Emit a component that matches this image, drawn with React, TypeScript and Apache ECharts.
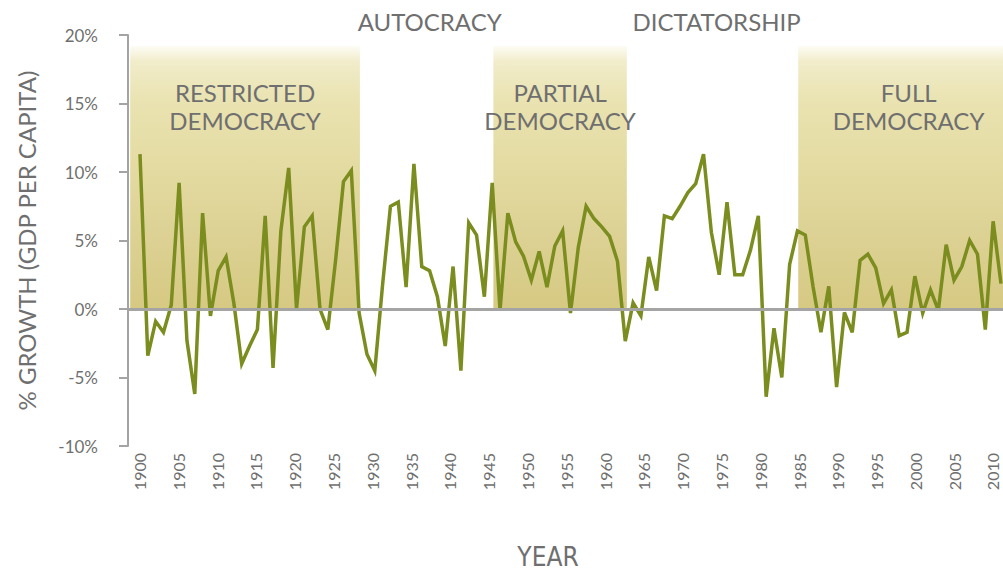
import React, { useEffect, useRef } from "react";
import * as echarts from "echarts";

// ---- Data ----
const firstYear = 1900;
const growth: number[] = [
  11.3, -3.4, -0.9, -1.7, 0.3, 9.2, -2.3, -6.2, 7.0, -0.5, // 1900-1909
  2.8, 3.8, 0.4, -4.0, -2.7, -1.5, 6.8, -4.3, 5.7, 10.3, // 1910-1919
  0.0, 6.0, 6.8, 0.0, -1.5, 3.6, 9.3, 10.1, -0.3, -3.3, // 1920-1929
  -4.5, 1.8, 7.5, 7.8, 1.6, 10.6, 3.1, 2.8, 0.9, -2.7, // 1930-1939
  3.1, -4.5, 6.3, 5.4, 0.9, 9.2, -0.1, 7.0, 4.9, 3.85, // 1940-1949
  2.1, 4.2, 1.6, 4.6, 5.7, -0.3, 4.5, 7.5, 6.6, 6.0, // 1950-1959
  5.3, 3.5, -2.35, 0.45, -0.5, 3.8, 1.35, 6.8, 6.6, 7.5, // 1960-1969
  8.5, 9.15, 11.3, 5.6, 2.5, 7.8, 2.5, 2.5, 4.3, 6.8, // 1970-1979
  -6.4, -1.4, -5.0, 3.25, 5.7, 5.4, 1.6, -1.7, 1.65, -5.7, // 1980-1989
  -0.25, -1.7, 3.55, 4.0, 3.0, 0.4, 1.4, -1.95, -1.7, 2.4, // 1990-1999
  -0.3, 1.4, -0.1, 4.7, 2.1, 3.1, 5.0, 4.0, -1.5, 6.4, // 2000-2009
  1.85, // 2010
];
const years: number[] = growth.map((_, i) => firstYear + i);

const tickYears: number[] = [
  1900, 1905, 1910, 1915, 1920, 1925, 1930, 1935, 1940, 1945, 1950, 1955,
  1960, 1965, 1970, 1975, 1980, 1985, 1990, 1995, 2000, 2005, 2010,
];

const eraNames: string[] = [
  "RESTRICTED\nDEMOCRACY",
  "AUTOCRACY",
  "PARTIAL\nDEMOCRACY",
  "DICTATORSHIP",
  "FULL\nDEMOCRACY",
];
const eraStart: number[] = [1898.75, 1928.1, 1945.15, 1962.2, 1984.1];
const eraEnd: number[] = [1928.1, 1945.15, 1962.2, 1984.1, 2012];
const eraShaded: boolean[] = [true, false, true, false, true];
const bandTop = 19.2;

// ---- Styles / layout ----
const TEXT = "#6f6f6f";
const AXIS = "#a4a4a4";
const LINE = "#7b8d1e";
const FONT = 'Lato, "Open Sans", sans-serif';
const NARROW = '"Liberation Sans Narrow", "DejaVu Sans Condensed", Lato, sans-serif';
const X_MIN = 1898.47;
const X_MAX = 2010.26;
const LABEL_X_MIN = 1898.52;
const LABEL_X_MAX = 2011.29;
const eraLabelOffset: number[][] = [[0, 0], [3, 0], [0, 0], [4, 0], [8, 0]];

export default function App() {
  const ref = useRef<HTMLDivElement>(null);

  useEffect(() => {
    if (!ref.current) return;
    const chart = echarts.init(ref.current, undefined, { renderer: "svg" });

    const bandGradient = {
      type: "linear",
      x: 0,
      y: 0,
      x2: 0,
      y2: 1,
      colorStops: [
        { offset: 0, color: "#fdfcf5" },
        { offset: 0.06, color: "#f1ecca" },
        { offset: 0.2, color: "#eae3b2" },
        { offset: 0.4, color: "#e5dda5" },
        { offset: 0.7, color: "#ddd295" },
        { offset: 1, color: "#d6c983" },
      ],
    };

    const eraAreas = eraNames.map((name, i) => [
      {
        name,
        xAxis: eraStart[i],
        yAxis: 0,
        itemStyle: { color: eraShaded[i] ? bandGradient : "rgba(0,0,0,0)" },
        label: eraShaded[i]
          ? { position: "insideTop", distance: 33, offset: eraLabelOffset[i] }
          : { position: "top", distance: 10, offset: eraLabelOffset[i] },
      },
      { xAxis: eraEnd[i], yAxis: bandTop },
    ]);

    const option = {
      animation: false,
      textStyle: { fontFamily: FONT },
      grid: {
        left: 128,
        right: 0,
        top: 35,
        bottom: 125,
        containLabel: false,
        outerBoundsMode: "none",
      },
      xAxis: [
        {
          type: "value",
          min: X_MIN,
          max: X_MAX,
          name: "YEAR",
          nameLocation: "middle",
          nameGap: 98,
          nameTextStyle: {
            fontFamily: NARROW,
            fontSize: 26,
            color: TEXT,
            padding: [0, 35, 0, 0],
          },
          axisLine: { show: false, onZero: false },
          axisTick: { show: false },
          splitLine: { show: false },
          axisLabel: { show: false },
        },
        {
          type: "value",
          position: "bottom",
          min: LABEL_X_MIN,
          max: LABEL_X_MAX,
          axisLine: { show: false, onZero: false },
          axisTick: { show: false },
          splitLine: { show: false },
          axisLabel: {
            customValues: tickYears,
            rotate: 90,
            margin: 7,
            fontSize: 16,
            lineHeight: 16,
            color: TEXT,
            fontFamily: FONT,
            formatter: (v: number) => String(v),
          },
        },
      ],
      yAxis: {
        type: "value",
        min: -10,
        max: 20,
        interval: 5,
        name: "% GROWTH (GDP PER CAPITA)",
        nameLocation: "middle",
        nameRotate: 90,
        nameGap: 90,
        nameTextStyle: { fontSize: 24, color: TEXT, fontFamily: FONT },
        axisLine: { show: true, lineStyle: { color: AXIS, width: 2 } },
        axisTick: { show: true, length: 9, lineStyle: { color: AXIS, width: 2 } },
        axisLabel: {
          formatter: "{value}%",
          margin: 30,
          fontSize: 17,
          color: TEXT,
          fontFamily: FONT,
        },
        splitLine: { show: false },
      },
      series: [
        {
          type: "line",
          name: "eras",
          data: [],
          z: 1,
          silent: true,
          clip: false,
          markArea: {
            silent: true,
            emphasis: { disabled: true },
            label: {
              show: true,
              color: TEXT,
              fontSize: 24,
              lineHeight: 28,
              fontFamily: FONT,
              align: "center",
            },
            data: eraAreas,
          },
        },
        {
          type: "line",
          name: "zero",
          data: [],
          z: 2,
          silent: true,
          markLine: {
            silent: true,
            symbol: "none",
            label: { show: false },
            emphasis: { disabled: true },
            lineStyle: { color: AXIS, width: 3, type: "solid" },
            data: [{ yAxis: 0 }],
          },
        },
        {
          type: "line",
          name: "GDP per capita growth",
          z: 3,
          data: years.map((y, i) => [y, growth[i]]),
          showSymbol: false,
          symbol: "none",
          lineStyle: { color: LINE, width: 3.5, join: "miter", miterLimit: 4 },
          itemStyle: { color: LINE },
        },
      ],
    };

    chart.setOption(option as any);
    return () => chart.dispose();
  }, []);

  return (
    <div
      ref={ref}
      style={{ position: "absolute", left: 0, top: 0, width: 1003, height: 571 }}
    />
  );
}
